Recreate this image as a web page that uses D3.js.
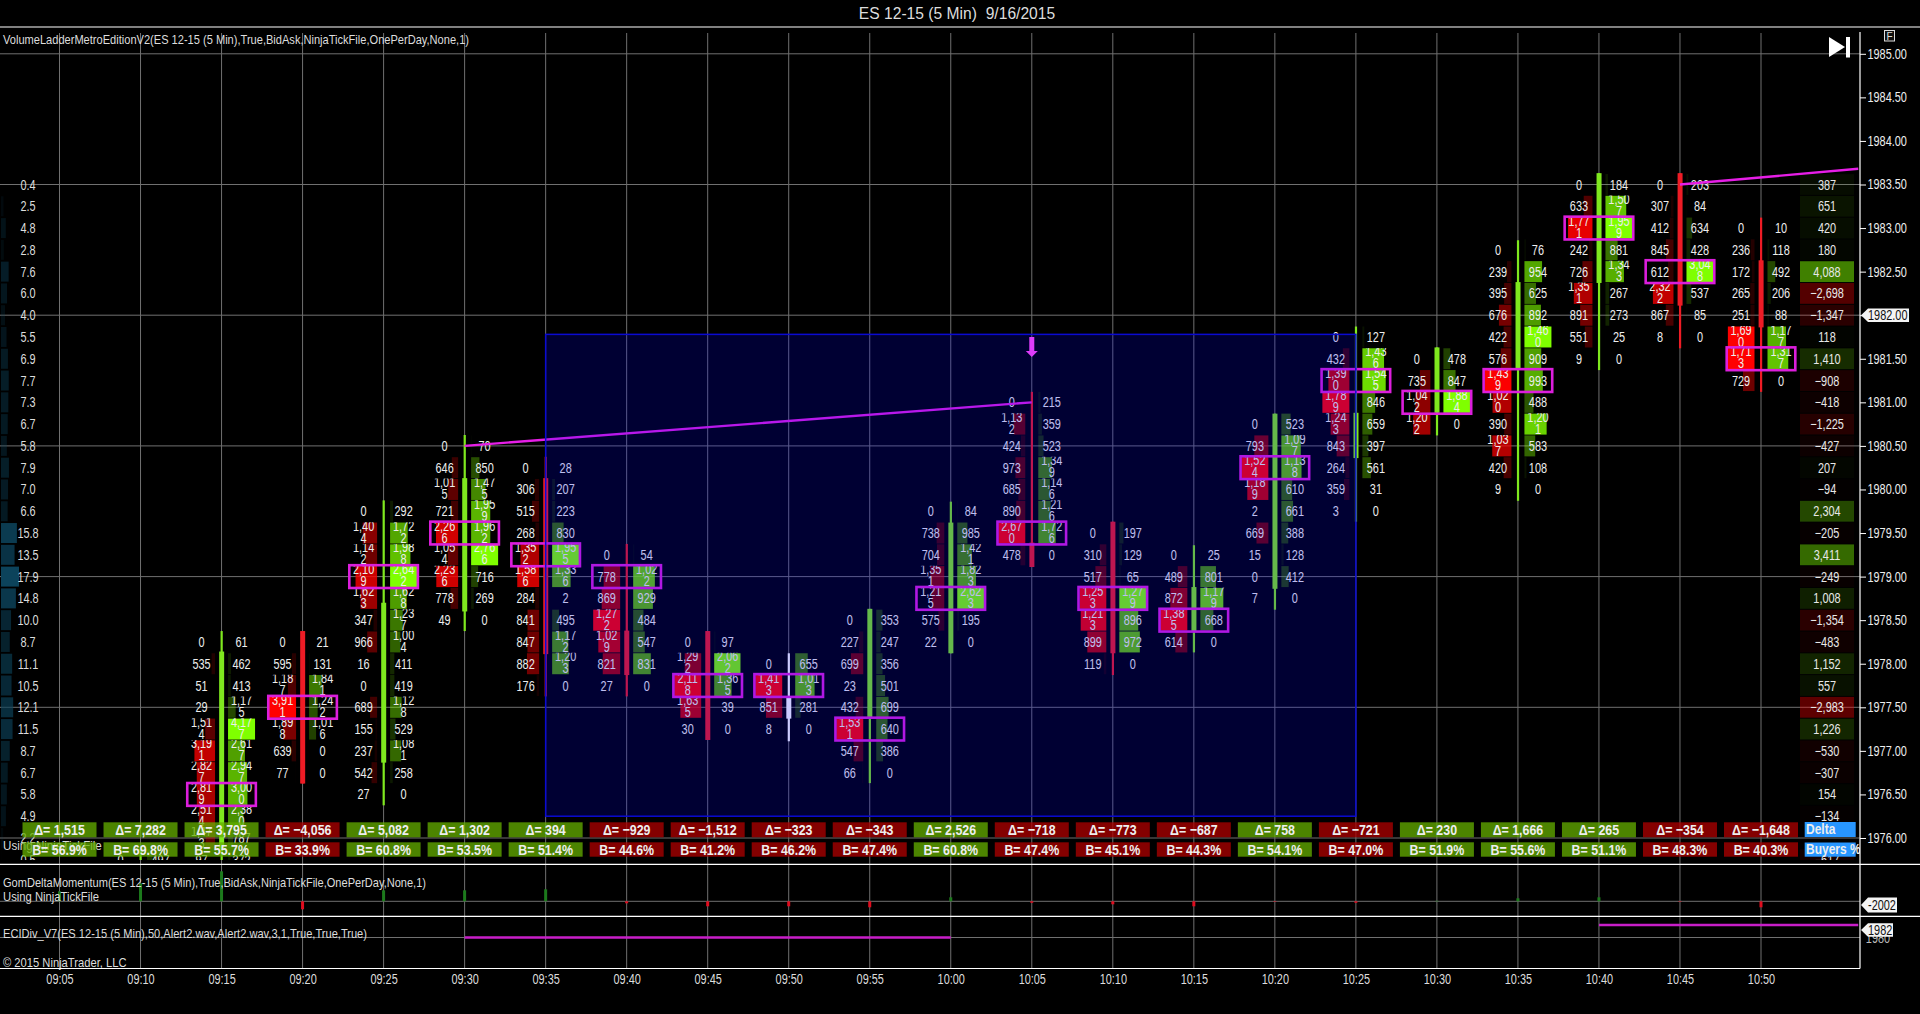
<!DOCTYPE html>
<html>
<head>
<meta charset="utf-8">
<script src="https://cdn.jsdelivr.net/npm/d3@7"></script>
<style>
  html, body { margin: 0; background: #000; overflow: hidden; }
  text { font-family: "Liberation Sans", Arial, sans-serif; white-space: pre; }
</style>
</head>
<body>
<div id="chart"></div>
<script>
// bar times and the big labels under each bar
var timeLabels = ["09:05","09:10","09:15","09:20","09:25","09:30","09:35","09:40","09:45","09:50","09:55","10:00","10:05","10:10","10:15","10:20","10:25","10:30","10:35","10:40","10:45","10:50"];
var deltaTotals = [1515,7282,3795,-4056,5082,1302,394,-929,-1512,-323,-343,2526,-718,-773,-687,758,-721,230,1666,265,-354,-1648];
var buyersPct = [56.9,69.8,55.7,33.9,60.8,53.5,51.4,44.6,41.2,46.2,47.4,60.8,47.4,45.1,44.3,54.1,47.0,51.9,55.6,51.1,48.3,40.3];
var momentum = [1000,1800,3000,-800,1100,1100,1200,-200,-500,-500,-600,400,-150,-300,-500,-50,-150,50,300,400,-50,-600];

var priceTicks = [1985,1984.5,1984,1983.5,1983,1982.5,1982,1981.5,1981,1980.5,1980,1979.5,1979,1978.5,1978,1977.5,1977,1976.5,1976];
var gridPrices = [1985,1983.5,1982,1980.5,1979,1977.5,1976];

// rows of the two side columns, top row is 1983.50, one row per 0.25
var profilePct = [0.4,2.5,4.8,2.8,7.6,6.0,4.0,5.5,6.9,7.7,7.3,6.7,5.8,7.9,7.0,6.6,15.8,13.5,17.9,14.8,10.0,8.7,11.1,10.5,12.1,11.5,8.7,6.7,5.8,4.9,2.2,0.5];
var rowDelta = [387,651,420,180,4088,-2698,-1347,118,1410,-908,-418,-1225,-427,207,-94,2304,-205,3411,-249,1008,-1354,-483,1152,557,-2983,1226,-530,-307,154,-134,null,-617];

// ladders, index 0 is the 09:10 bar, its lower rows are cut off in the picture
var ladderTimes = ["09:10","09:15","09:20","09:25","09:30","09:35","09:40","09:45","09:50","09:55","10:00","10:05","10:10","10:15","10:20","10:25","10:30","10:35","10:40","10:45","10:50"];
var ladderTop = [1975.75,1978.25,1978.25,1979.75,1980.5,1980.25,1979.25,1978.25,1978,1978.5,1979.75,1981,1979.5,1979.25,1980.75,1981.75,1981.5,1982.75,1983.5,1983.5,1983];
var ladderBid = [
  [0,2000],
  [0,535,51,29,1514,3191,2827,2819,2514,1473,97],
  [0,595,1187,3911,1898,639,77],
  [0,1404,1142,2109,1623,347,966,16,0,689,155,237,542,27],
  [0,646,1015,721,2266,1054,2236,778,49],
  [0,306,515,268,1352,1586,284,841,847,882,176],
  [0,778,869,1272,1029,821,27],
  [0,1292,2118,1635,30],
  [0,1413,851,8],
  [0,227,699,23,432,1531,547,66],
  [0,738,704,1351,1215,575,22],
  [0,1132,424,973,685,890,2670,478],
  [0,310,517,1253,1213,899,119],
  [0,489,872,1385,614],
  [0,793,1524,1189,2,669,15,0,7],
  [0,432,1390,1789,1243,843,264,359,3],
  [0,735,1042,1202],
  [0,239,395,676,422,576,1439,1020,390,1037,420,9],
  [0,633,1771,242,726,1351,891,551,9],
  [0,307,412,845,612,2322,867,8],
  [0,236,172,265,251,1690,1713,729]
];
var ladderAsk = [
  [497,2400],
  [61,462,413,1175,4177,2617,2947,3000,2380,787,372],
  [21,131,1841,1242,1016,0,0],
  [292,1722,1988,2642,1628,1237,1004,411,419,1128,529,1081,258,0],
  [70,850,1475,1959,1962,2766,716,269,0],
  [28,207,223,830,1955,1336,2,495,1172,1203,0],
  [54,1022,929,484,547,831,0],
  [97,2062,1365,39,0],
  [655,1013,281,0],
  [353,247,356,501,699,640,386,0],
  [84,985,1421,1823,2623,195,0],
  [215,359,523,1349,1146,1216,1726,0],
  [197,129,65,1279,896,972,0],
  [25,801,1179,668,0],
  [523,1097,1138,610,661,388,128,412,0],
  [127,1436,1545,846,659,397,561,31,0],
  [478,847,1884,0],
  [76,954,625,892,1460,909,993,488,1201,583,108,0],
  [184,1507,1959,881,1343,267,273,25,0],
  [203,84,634,428,3048,537,85,0],
  [10,118,492,206,88,1177,1317,0]
];
var pocPrices = [null,1976.5,1977.5,1979,1979.5,1979.25,1979,1977.75,1977.75,1977.25,1978.75,1979.5,1978.75,1978.5,1980.25,1981.25,1981,1981.25,1983,1982.5,1981.5];

// candles, same order as the ladders
var candleDir = ["up","up","down","up","up","down","down","down","flat","up","up","down","down","up","up","up","up","up","up","down","down"];
var wickHigh = [1975.875,1978.375,1978.375,1979.875,1980.625,1980.375,1979.375,1978.375,1978.12,1978.63,1979.86,1981.12,1979.63,1979.36,1980.87,1981.87,1981.63,1982.86,1983.63,1983.63,1983.12];
var wickLow = [1975.5,1975.5,1976.625,1976.375,1978.375,1977.625,1977.625,1977.125,1977.11,1976.63,1978.12,1979.11,1977.87,1978.13,1978.62,1979.63,1980.62,1979.87,1981.37,1981.62,1981.12];
var bodyHigh = [1975.7,1978.14,1978.375,1978.7,1980.13,1980.13,1978.38,1978.375,1977.61,1978.63,1979.62,1979.39,1979.63,1978.88,1980.87,1980.88,1981.63,1982.38,1983.63,1983.63,1982.63];
var bodyLow = [1975.6,1975.875,1976.625,1976.865,1978.6,1978.11,1977.87,1977.125,1977.37,1977.38,1978.12,1979.11,1978.12,1978.37,1978.86,1980.36,1980.88,1981.39,1982.37,1982.11,1981.86];

// trend lines, shaded zone, signal arrow
var trendTimes = [["09:30","10:05"],["10:45","10:56"]];
var trendPrices = [[1980.5,1981.0],[1983.5,1983.68]];
var zoneTimes = ["09:35","10:25"];
var zonePrices = [1981.78,1976.25];
var arrowTime = "10:05";
var arrowPrices = [1981.75,1981.52];

// lower panel values
var eciTimes = [["09:30","10:00"],["10:40","10:56"]];
var eciValues = [1980,1982];

var width = 1920, height = 1014;
var parseTime = d3.timeParse("%H:%M");
var squeeze = 0.78;

var x = d3.scaleTime().domain([parseTime("09:05"), parseTime("10:50")]).range([59.5, 1761]);
var y = d3.scaleLinear().domain([1983.5, 1976]).range([184.5, 838]);
var momentumY = d3.scaleLinear().domain([0, 3000]).range([901.3, 871.3]);
var eciY = d3.scaleLinear().domain([1980, 1982]).range([937.5, 925]);
var rowH = y(1982.25) - y(1982.5);
var fmt = d3.format(",");

var svg = d3.select("#chart").append("svg")
  .attr("width", width)
  .attr("height", height)
  .style("display", "block")
  .style("background", "#000");

var defs = svg.append("defs");
defs.append("clipPath").attr("id", "mainClip").append("rect")
  .attr("x", 0).attr("y", 28).attr("width", 1860).attr("height", 832);

// squeezed text, the platform font is narrower than Liberation Sans
function label(parent, px, py, str, opts) {
  opts = opts || {};
  return parent.append("text")
    .attr("transform", "translate(" + px + "," + py + ") scale(" + (opts.sx || squeeze) + ",1)")
    .attr("text-anchor", opts.anchor || "middle")
    .attr("font-size", opts.size || 14)
    .attr("font-weight", opts.weight || "normal")
    .attr("fill", opts.fill || "#eee")
    .text(str);
}

function wideLabel(str, px, py, len) {
  svg.append("text")
    .attr("x", px).attr("y", py)
    .attr("font-size", 13.5)
    .attr("fill", "#ddd")
    .attr("textLength", len)
    .attr("lengthAdjust", "spacingAndGlyphs")
    .text(str);
}

label(svg, 957, 19, "ES 12-15 (5 Min)  9/16/2015", {size: 17, sx: 0.92, fill: "#ddd"});

// grid
var gridG = svg.append("g").attr("stroke", "#707070").attr("stroke-width", 1);
gridG.selectAll("line.v").data(timeLabels).enter().append("line")
  .attr("class", "v")
  .attr("x1", function (d) { return x(parseTime(d)); })
  .attr("x2", function (d) { return x(parseTime(d)); })
  .attr("y1", 33).attr("y2", 968);
gridG.selectAll("line.h").data(gridPrices).enter().append("line")
  .attr("class", "h")
  .attr("x1", 0).attr("x2", 1860)
  .attr("y1", function (d) { return y(d); })
  .attr("y2", function (d) { return y(d); });
gridG.append("line").attr("x1", 0).attr("x2", 1860).attr("y1", momentumY(0)).attr("y2", momentumY(0));
gridG.append("line").attr("x1", 0).attr("x2", 1860).attr("y1", eciY(1980)).attr("y2", eciY(1980));

var main = svg.append("g").attr("clip-path", "url(#mainClip)");

// volume profile on the left
var profileX = d3.scaleLinear().domain([0, 17.9]).range([0, 18]);
profilePct.forEach(function (v, i) {
  var py = y(1983.5 - i * 0.25);
  main.append("rect")
    .attr("x", 1).attr("y", py - 10).attr("width", profileX(v)).attr("height", 20)
    .attr("fill", "#0c435b").attr("opacity", v / 17.9);
  label(main, 28, py + 5, v.toFixed(1), {fill: "#ddd"});
});

// delta per row on the right
rowDelta.forEach(function (v, i) {
  if (v === null) return;
  var py = y(1983.5 - i * 0.25);
  main.append("rect")
    .attr("x", 1800).attr("y", py - 10.4).attr("width", 54).attr("height", 20.8)
    .attr("fill", v > 0 ? "#7fff00" : "#ff0000")
    .attr("opacity", Math.abs(v) / 4088 * 0.5);
  label(main, 1827, py + 5, fmt(v), {fill: "#e8e8e8"});
});

// row clips cut the tops of wrapped numbers like the platform does
var rowPrices = d3.range(0, 33).map(function (i) { return 1983.5 - i * 0.25; });
rowPrices.forEach(function (p) {
  defs.append("clipPath").attr("id", "row" + Math.round(p * 100)).append("rect")
    .attr("x", 0).attr("y", y(p) - rowH / 2).attr("width", 1860).attr("height", rowH);
});

ladderTimes.forEach(function (t, b) {
  var cx = x(parseTime(t));
  var bids = ladderBid[b], asks = ladderAsk[b];
  var barMax = d3.max(bids.concat(asks));
  var cellW = d3.scaleLinear().domain([0, barMax]).range([0, 27]);
  var barG = main.append("g");

  bids.forEach(function (bid, r) {
    var ask = asks[r];
    var p = ladderTop[b] - r * 0.25;
    var py = y(p);
    barG.append("rect")
      .attr("x", cx - 6.5 - cellW(bid)).attr("y", py - rowH / 2 + 0.4)
      .attr("width", cellW(bid)).attr("height", rowH - 0.8)
      .attr("fill", "#ff0000").attr("opacity", bid / barMax);
    barG.append("rect")
      .attr("x", cx + 6.5).attr("y", py - rowH / 2 + 0.4)
      .attr("width", cellW(ask)).attr("height", rowH - 0.8)
      .attr("fill", "#7fff00").attr("opacity", ask / barMax);

    var rowClip = barG.append("g").attr("clip-path", "url(#row" + Math.round(p * 100) + ")");
    [[bid, -20], [ask, 20]].forEach(function (c) {
      var s = fmt(c[0]);
      if (s.length > 4) {
        label(rowClip, cx + c[1], py - 2.4, s.slice(0, 4));
        label(rowClip, cx + c[1], py + 9.6, s.slice(4));
      } else {
        label(rowClip, cx + c[1], py + 5, s);
      }
    });
  });

  // candle
  var col = candleDir[b] === "up" ? "#7fe81e" : candleDir[b] === "down" ? "#ee1c25" : "#ffffff";
  barG.append("rect")
    .attr("x", cx - 1).attr("width", 2.2)
    .attr("y", y(wickHigh[b])).attr("height", y(wickLow[b]) - y(wickHigh[b]))
    .attr("fill", col);
  barG.append("rect")
    .attr("x", cx - 2.4).attr("width", 5)
    .attr("y", y(bodyHigh[b])).attr("height", y(bodyLow[b]) - y(bodyHigh[b]))
    .attr("fill", col);

  // biggest volume row
  if (pocPrices[b] !== null) {
    barG.append("rect")
      .attr("x", cx - 34.3).attr("y", y(pocPrices[b]) - 11.4)
      .attr("width", 68.6).attr("height", 22.8)
      .attr("fill", "none").attr("stroke", "#dc1edc").attr("stroke-width", 2.6);
  }
});

// trend lines sit under the blue zone
var trendLine = d3.line()
  .x(function (d) { return x(parseTime(d[0])); })
  .y(function (d) { return y(d[1]); });
trendTimes.forEach(function (tt, i) {
  main.append("path")
    .attr("d", trendLine([[tt[0], trendPrices[i][0]], [tt[1], trendPrices[i][1]]]))
    .attr("fill", "none").attr("stroke", "#e61ee6").attr("stroke-width", 2.4);
});

// the shaded zone goes over the ladders, it tints them blue
main.append("rect")
  .attr("x", x(parseTime(zoneTimes[0])))
  .attr("y", y(zonePrices[0]))
  .attr("width", x(parseTime(zoneTimes[1])) - x(parseTime(zoneTimes[0])))
  .attr("height", y(zonePrices[1]) - y(zonePrices[0]))
  .attr("fill", "#0000ff").attr("fill-opacity", 0.2)
  .attr("stroke", "#0a0ad2").attr("stroke-width", 1.5);

// signal arrow
var ax = x(parseTime(arrowTime)), ay0 = y(arrowPrices[0]), ay1 = y(arrowPrices[1]);
main.append("path")
  .attr("d", "M" + (ax - 2.5) + "," + ay0 + "H" + (ax + 2.5) + "V" + (ay1 - 6) + "H" + (ax + 6) +
    "L" + ax + "," + ay1 + "L" + (ax - 6) + "," + (ay1 - 6) + "H" + (ax - 2.5) + "Z")
  .attr("fill", "#dc3cfa");

label(main, 3, 850, "Using NinjaTickFile", {anchor: "start", size: 13.5, sx: 0.86, fill: "#ddd"});

// delta and buyers boxes
timeLabels.forEach(function (t, i) {
  var cx = x(parseTime(t));
  var up = deltaTotals[i] >= 0;
  var fill = up ? "#64ad00" : "#ad0000";
  main.append("rect").attr("x", cx - 37).attr("y", 822.3).attr("width", 74).attr("height", 15)
    .attr("fill", fill).attr("opacity", 0.76);
  main.append("rect").attr("x", cx - 37).attr("y", 842.3).attr("width", 74).attr("height", 14.4)
    .attr("fill", fill).attr("opacity", 0.76);
  label(main, cx, 835, "Δ= " + fmt(deltaTotals[i]), {size: 15.5, weight: "bold", sx: 0.8, fill: "#eee"});
  label(main, cx, 855, "B= " + buyersPct[i].toFixed(1) + "%", {size: 15.5, weight: "bold", sx: 0.8, fill: "#eee"});
});
main.append("rect").attr("x", 1804.7).attr("y", 822).attr("width", 51).attr("height", 15).attr("fill", "#2896ff");
main.append("rect").attr("x", 1804.7).attr("y", 842.5).attr("width", 51).attr("height", 14.2).attr("fill", "#2896ff");
label(main, 1806, 834, "Delta", {anchor: "start", size: 15, weight: "bold", sx: 0.8});
label(main, 1806, 854, "Buyers %", {anchor: "start", size: 15, weight: "bold", sx: 0.8});

// momentum panel
svg.selectAll("rect.mom").data(momentum).enter().append("rect")
  .attr("class", "mom")
  .attr("x", function (d, i) { return x(parseTime(timeLabels[i])) - 1.5; })
  .attr("width", 3)
  .attr("y", function (d) { return Math.min(momentumY(d), momentumY(0)); })
  .attr("height", function (d) { return Math.abs(momentumY(d) - momentumY(0)); })
  .attr("fill", function (d) { return d > 0 ? "#1c7a1c" : "#e00c1e"; });

// eci panel
var eciLine = d3.line()
  .x(function (d) { return x(parseTime(d[0])); })
  .y(function (d) { return eciY(d[1]); });
eciTimes.forEach(function (tt, i) {
  svg.append("path")
    .attr("d", eciLine([[tt[0], eciValues[i]], [tt[1], eciValues[i]]]))
    .attr("fill", "none").attr("stroke", "#c81ec8").attr("stroke-width", 2.4);
});

wideLabel("VolumeLadderMetroEditionV2(ES 12-15 (5 Min),True,BidAsk,NinjaTickFile,OnePerDay,None,1)", 3, 44, 466);
wideLabel("GomDeltaMomentum(ES 12-15 (5 Min),True,BidAsk,NinjaTickFile,OnePerDay,None,1)", 3, 887, 423);
wideLabel("Using NinjaTickFile", 3, 901, 96);
wideLabel("ECIDiv_V7(ES 12-15 (5 Min),50,Alert2.wav,Alert2.wav,3,1,True,True,True)", 3, 938, 364);
wideLabel("© 2015 NinjaTrader, LLC", 3, 967, 123.5);

// axes
var yAxis = d3.axisRight(y)
  .tickValues(priceTicks)
  .tickSize(6)
  .tickPadding(3.6)
  .tickFormat(d3.format(".2f"));
var yG = svg.append("g").attr("transform", "translate(1860,0)").call(yAxis);
yG.select(".domain").remove();
yG.selectAll("line").attr("stroke", "#fff");
yG.selectAll("text")
  .attr("font-size", 14).attr("font-family", "Liberation Sans")
  .attr("fill", "#eee").attr("transform", "scale(" + squeeze + ",1)");

var xAxis = d3.axisBottom(x)
  .tickValues(timeLabels.map(parseTime))
  .tickSize(0)
  .tickPadding(0)
  .tickFormat(d3.timeFormat("%H:%M"));
var xG = svg.append("g").attr("transform", "translate(0,974)").call(xAxis);
xG.select(".domain").remove();
xG.selectAll("text")
  .attr("font-size", 14).attr("font-family", "Liberation Sans")
  .attr("fill", "#ddd").attr("transform", "scale(" + squeeze + ",1)");

// frame
var frame = svg.append("g").attr("stroke", "#fff").attr("stroke-width", 1.2);
frame.append("line").attr("x1", 0).attr("x2", width).attr("y1", 27).attr("y2", 27);
frame.append("line").attr("x1", 0).attr("x2", width).attr("y1", 864.3).attr("y2", 864.3);
frame.append("line").attr("x1", 0).attr("x2", width).attr("y1", 916.3).attr("y2", 916.3);
frame.append("line").attr("x1", 0).attr("x2", 1860).attr("y1", 968.5).attr("y2", 968.5);
frame.append("line").attr("x1", 1860).attr("x2", 1860).attr("y1", 32).attr("y2", 968.5);

// price tags on the axis
function tag(py, h, w, str) {
  svg.append("path")
    .attr("d", "M1861," + py + "L1868," + (py - h / 2) + "H" + (1861 + w) + "V" + (py + h / 2) + "H1868Z")
    .attr("fill", "#f4f4f4");
  label(svg, 1868, py + 4.6, str, {anchor: "start", fill: "#111"});
}
label(svg, 1878, eciY(1980) + 5, "1980", {fill: "#bbb"});
tag(y(1982), 13.6, 48, "1982.00");
tag(905, 15, 36, "-2002");
tag(eciY(1982) + 5, 13.6, 32, "1982");

// small buttons top right
svg.append("path").attr("d", "M1829,37L1845,47L1829,57Z").attr("fill", "#fff");
svg.append("rect").attr("x", 1846).attr("y", 37).attr("width", 4).attr("height", 20.5).attr("fill", "#fff");
svg.append("rect").attr("x", 1884.5).attr("y", 30.5).attr("width", 10).attr("height", 10.5)
  .attr("fill", "#111").attr("stroke", "#ddd");
label(svg, 1889.5, 39.5, "F", {size: 10, sx: 1, fill: "#ddd"});
</script>
</body>
</html>
